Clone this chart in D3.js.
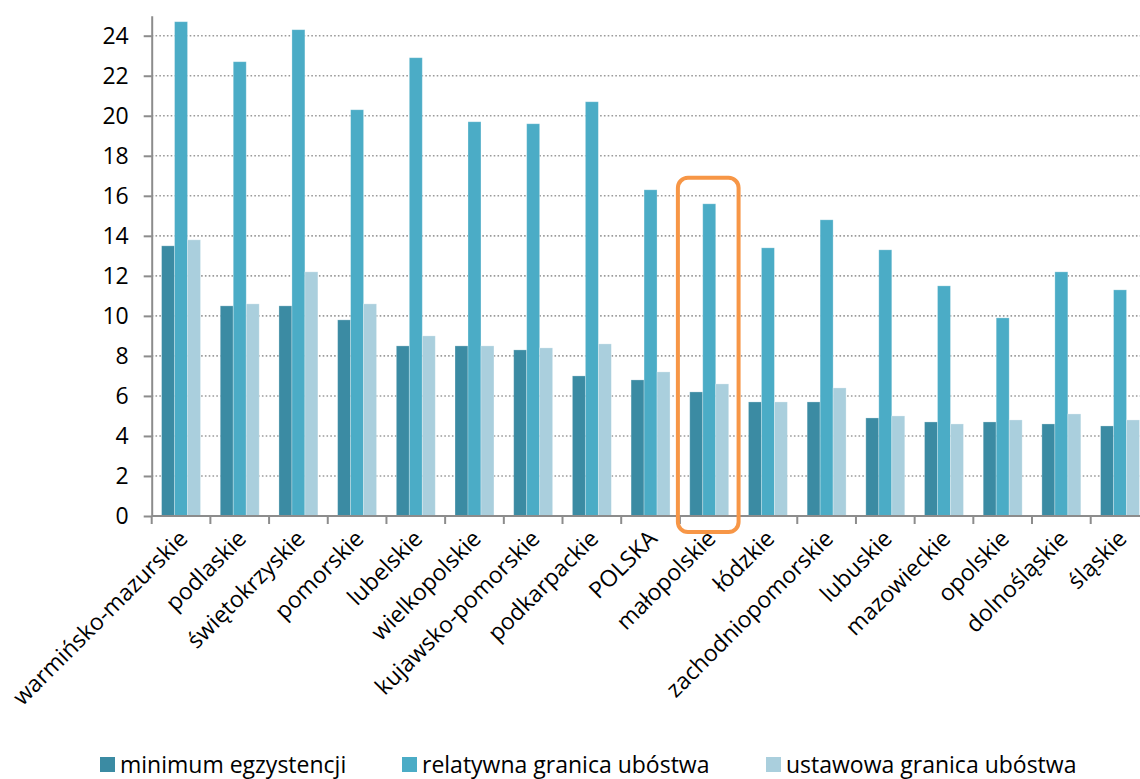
<!DOCTYPE html>
<html>
<head>
<meta charset="utf-8">
<script src="https://cdn.jsdelivr.net/npm/d3@7"></script>
<style>
  body { margin: 0; background: #fff; }
  svg { display: block; font-family: "Open Sans", sans-serif; }
</style>
</head>
<body>
<svg width="1140" height="779"></svg>
<script>
// wojewodztwa, od najwyzszego minimum egzystencji
var categories = ["warmińsko-mazurskie", "podlaskie", "świętokrzyskie", "pomorskie",
  "lubelskie", "wielkopolskie", "kujawsko-pomorskie", "podkarpackie", "POLSKA",
  "małopolskie", "łódzkie", "zachodniopomorskie", "lubuskie", "mazowieckie",
  "opolskie", "dolnośląskie", "śląskie"];

var minimum    = [13.5, 10.5, 10.5, 9.8, 8.5, 8.5, 8.3, 7.0, 6.8, 6.2, 5.7, 5.7, 4.9, 4.7, 4.7, 4.6, 4.5];
var relatywna  = [24.7, 22.7, 24.3, 20.3, 22.9, 19.7, 19.6, 20.7, 16.3, 15.6, 13.4, 14.8, 13.3, 11.5, 9.9, 12.2, 11.3];
var ustawowa   = [13.8, 10.6, 12.2, 10.6, 9.0, 8.5, 8.4, 8.6, 7.2, 6.6, 5.7, 6.4, 5.0, 4.6, 4.8, 5.1, 4.8];

var seriesNames = ["minimum egzystencji", "relatywna granica ubóstwa", "ustawowa granica ubóstwa"];
var seriesColors = ["#3b8ba3", "#4bacc6", "#aacfdd"];
var yTicks = [0, 2, 4, 6, 8, 10, 12, 14, 16, 18, 20, 22, 24];
var highlighted = "małopolskie";

var series = [minimum, relatywna, ustawowa];

var svg = d3.select("svg");

var x = d3.scaleBand()
    .domain(categories)
    .range([151.7, 1149.4]);

var xSub = d3.scaleBand()
    .domain(d3.range(series.length))
    .range([0, x.bandwidth()])
    .paddingOuter(0.76);

var y = d3.scaleLinear()
    .domain([0, 25])
    .range([516, 15.7]);

// siatka
svg.append("g")
    .attr("class", "grid")
    .selectAll("line")
    .data(yTicks.filter(function(d) { return d > 0; }))
    .enter()
    .append("line")
    .attr("x1", x.range()[0])
    .attr("x2", 1140)
    .attr("y1", function(d) { return y(d); })
    .attr("y2", function(d) { return y(d); })
    .attr("stroke", "#9a9a9a")
    .attr("stroke-width", 1.6)
    .attr("stroke-dasharray", "1.6,2.2");

// slupki
var groups = svg.append("g")
    .attr("id", "bars")
    .selectAll("g")
    .data(categories)
    .enter()
    .append("g")
    .attr("transform", function(d) { return "translate(" + x(d) + ",0)"; });

groups.selectAll("rect")
    .data(function(d, i) {
        return series.map(function(s, k) { return { k: k, v: s[i] }; });
    })
    .enter()
    .append("rect")
    .attr("x", function(d) { return xSub(d.k); })
    .attr("width", xSub.bandwidth())
    .attr("y", function(d) { return y(d.v); })
    .attr("height", function(d) { return y(0) - y(d.v); })
    .attr("fill", function(d) { return seriesColors[d.k]; })
    .attr("stroke", "#ffffff")
    .attr("stroke-opacity", 0.35)
    .attr("stroke-width", 0.8);

// os Y
var yAxis = svg.append("g")
    .attr("transform", "translate(" + x.range()[0] + ",0)")
    .call(d3.axisLeft(y).tickValues(yTicks).tickSize(8).tickSizeOuter(0).tickPadding(15));

yAxis.select(".domain").attr("stroke", "#8c8c8c").attr("stroke-width", 2);
yAxis.selectAll(".tick line").attr("stroke", "#8c8c8c").attr("stroke-width", 2);
yAxis.selectAll(".tick text")
    .attr("fill", "#000")
    .style("font-size", "23px")
    .style("font-family", "'Open Sans', sans-serif");

// os X
var xAxis = svg.append("g").attr("id", "xaxis");

xAxis.append("line")
    .attr("x1", x.range()[0])
    .attr("x2", 1140)
    .attr("y1", y(0))
    .attr("y2", y(0))
    .attr("stroke", "#8c8c8c")
    .attr("stroke-width", 2);

xAxis.selectAll(".xtick")
    .data(categories)
    .enter()
    .append("line")
    .attr("class", "xtick")
    .attr("x1", function(d) { return x(d); })
    .attr("x2", function(d) { return x(d); })
    .attr("y1", y(0))
    .attr("y2", y(0) + 8)
    .attr("stroke", "#8c8c8c")
    .attr("stroke-width", 2);

xAxis.selectAll(".xlabel")
    .data(categories)
    .enter()
    .append("text")
    .attr("class", "xlabel")
    .attr("transform", function(d) {
        return "translate(" + (x(d) + x.bandwidth() / 2 + 8) + "," + (y(0) + 24) + ") rotate(-45)";
    })
    .attr("text-anchor", "end")
    .style("font-size", "23px")
    .attr("fill", "#000")
    .text(function(d) { return d; });

// wyroznienie malopolski
svg.append("rect")
    .attr("x", x(highlighted) - 2)
    .attr("y", y(16.9))
    .attr("width", x.bandwidth() + 2)
    .attr("height", y(0) - y(16.9) + 16)
    .attr("rx", 10)
    .attr("ry", 10)
    .attr("fill", "none")
    .attr("stroke", "#f79646")
    .attr("stroke-width", 4);

// legenda
var legendX = [100, 402, 766];
var legend = svg.append("g")
    .attr("id", "legend")
    .selectAll("g")
    .data(seriesNames)
    .enter()
    .append("g")
    .attr("transform", function(d, i) { return "translate(" + legendX[i] + ",757)"; });

legend.append("rect")
    .attr("width", 15)
    .attr("height", 15)
    .attr("fill", function(d, i) { return seriesColors[i]; });

legend.append("text")
    .attr("x", 20)
    .attr("y", 16)
    .style("font-size", "23px")
    .attr("fill", "#000")
    .text(function(d) { return d; });
</script>
</body>
</html>
